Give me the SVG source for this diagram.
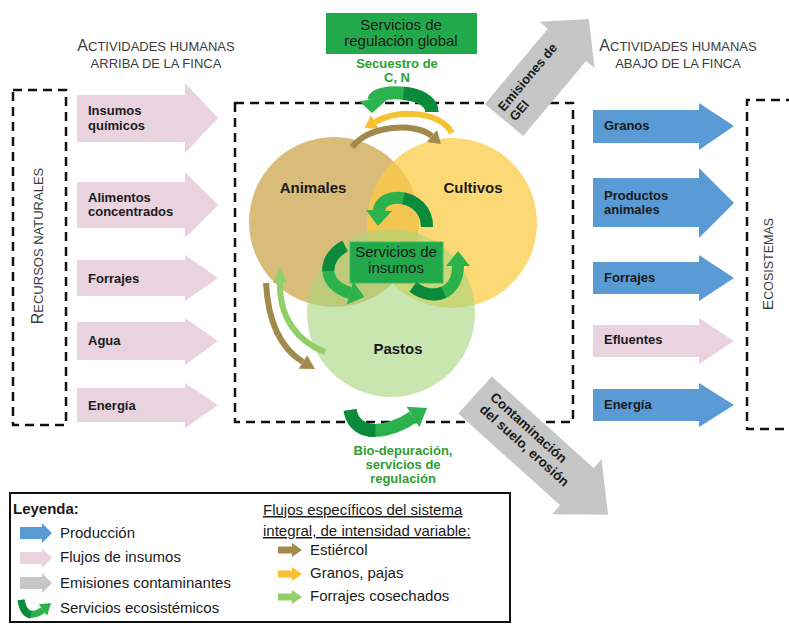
<svg xmlns="http://www.w3.org/2000/svg" width="789" height="626" viewBox="0 0 789 626">
<defs>
<style>
text{font-family:"Liberation Sans",Arial,Helvetica,sans-serif}
.lbl{font-size:13px;font-weight:bold;fill:#1a1a1a}
.hdr{font-size:13px;fill:#3c3c3c}
.big{font-size:16px}
.cl{font-size:15px;font-weight:bold;fill:#1a1a1a}
.gt{font-size:13px;font-weight:bold;fill:#2e9e2e}
.bx{font-size:15px;fill:#1a1a1a}
.lg{font-size:15px;fill:#1a1a1a}
.dash{fill:none;stroke:#111;stroke-width:2.5;stroke-dasharray:9 6}
.pink{fill:#e8d3df}
.blue{fill:#5b9bd5}
.gray{fill:#c6c6c6}
.gb{fill:none;stroke:#2bb24c;stroke-linecap:butt}
.gd{fill:none;stroke:#0b8a3c;stroke-linecap:butt}
.gh{fill:#2bb24c}
.brown{fill:none;stroke:#a28a4c;stroke-width:6}
.yel{fill:none;stroke:#f7c232;stroke-width:6}
.lgr{fill:none;stroke:#92cf6a;stroke-width:6}
</style>
</defs>

<!-- Venn circles -->
<g id="animales">
<circle cx="334" cy="222" r="85" fill="#c9a040" fill-opacity="0.7"/>
</g>
<g id="cultivos">
<circle cx="452" cy="223" r="85" fill="#fbcb40" fill-opacity="0.72"/>
</g>
<g id="pastos">
<circle cx="391" cy="313" r="84" fill="#a6d67c" fill-opacity="0.6"/>
</g>
<text class="cl" x="313" y="193" text-anchor="middle">Animales</text>
<text class="cl" x="473" y="193" text-anchor="middle">Cultivos</text>
<text class="cl" x="398" y="354" text-anchor="middle">Pastos</text>

<!-- dashed boxes -->
<g id="recursos-naturales">
<rect class="dash" x="13" y="90" width="53" height="335"/>
<text class="hdr" transform="translate(43,246) rotate(-90)" text-anchor="middle"><tspan class="big">R</tspan>ECURSOS NATURALES</text>
</g>
<g id="finca">
<rect class="dash" x="235" y="103" width="338" height="319"/>
</g>
<g id="ecosistemas">
<path class="dash" d="M795 100 H747 V429 H795"/>
<text class="hdr" transform="translate(773,264) rotate(-90)" text-anchor="middle" style="font-size:12.5px"><tspan style="font-size:15.5px">E</tspan>COSISTEMAS</text>
</g>

<!-- headers -->
<g id="arriba">
<text class="hdr" x="156" y="51" text-anchor="middle"><tspan class="big">A</tspan>CTIVIDADES HUMANAS</text>
<text class="hdr" x="156" y="68" text-anchor="middle">ARRIBA DE LA FINCA</text>
</g>
<g id="abajo">
<text class="hdr" x="678" y="51" text-anchor="middle"><tspan class="big">A</tspan>CTIVIDADES HUMANAS</text>
<text class="hdr" x="678" y="68" text-anchor="middle">ABAJO DE LA FINCA</text>
</g>

<!-- input arrows -->
<g id="in-insumos">
<polygon class="pink" points="77,95 185,95 185,83 218,118 185,153 185,142 77,142"/>
<text class="lbl" x="88" y="115">Insumos</text>
<text class="lbl" x="88" y="130">químicos</text>
</g>
<g id="in-alimentos">
<polygon class="pink" points="77,182 185,182 185,172 218,205 185,238 185,228 77,228"/>
<text class="lbl" x="88" y="202">Alimentos</text>
<text class="lbl" x="88" y="216">concentrados</text>
</g>
<g id="in-forrajes">
<polygon class="pink" points="77,260 185,260 185,255 218,278 185,301 185,296 77,296"/>
<text class="lbl" x="88" y="283">Forrajes</text>
</g>
<g id="in-agua">
<polygon class="pink" points="77,322 185,322 185,318 218,341 185,365 185,360 77,360"/>
<text class="lbl" x="88" y="345">Agua</text>
</g>
<g id="in-energia">
<polygon class="pink" points="77,388 185,388 185,383 218,405 185,428 185,422 77,422"/>
<text class="lbl" x="88" y="410">Energía</text>
</g>

<!-- output arrows -->
<g id="out-granos">
<polygon class="blue" points="593,110 699,110 699,103 734,126 699,150 699,143 593,143"/>
<text class="lbl" x="604" y="130">Granos</text>
</g>
<g id="out-productos">
<polygon class="blue" points="593,178 699,178 699,168 734,203 699,238 699,227 593,227"/>
<text class="lbl" x="604" y="200">Productos</text>
<text class="lbl" x="604" y="214">animales</text>
</g>
<g id="out-forrajes">
<polygon class="blue" points="593,262 699,262 699,255 734,278 699,301 699,294 593,294"/>
<text class="lbl" x="604" y="282">Forrajes</text>
</g>
<g id="out-efluentes">
<polygon class="pink" points="593,325 699,325 699,318 734,341 699,364 699,357 593,357"/>
<text class="lbl" x="604" y="344">Efluentes</text>
</g>
<g id="out-energia">
<polygon class="blue" points="593,389 699,389 699,383 734,405 699,427 699,421 593,421"/>
<text class="lbl" x="604" y="409">Energía</text>
</g>

<!-- emission arrows -->
<g id="emisiones-gei" transform="translate(504,120) rotate(-50)">
<polygon class="gray" points="0,-25 98,-25 98,-36 132,0 98,36 98,25 0,25"/>
<text class="lbl" x="6" y="-5">Emisiones de</text>
<text class="lbl" x="6" y="10">GEI</text>
</g>
<g id="contaminacion" transform="translate(475,395) rotate(42)">
<polygon class="gray" points="0,-25 137,-25 137,-37 179,0 137,37 137,25 0,25"/>
<text class="lbl" x="13" y="-7" style="font-size:13.5px">Contaminación</text>
<text class="lbl" x="13" y="9" style="font-size:13.5px">del suelo, erosión</text>
</g>

<!-- service boxes -->
<g id="reg-global">
<rect x="326" y="13" width="151" height="41" fill="#22a94b"/>
<text class="bx" x="401" y="30" text-anchor="middle">Servicios de</text>
<text class="bx" x="401" y="46" text-anchor="middle">regulación global</text>
<text class="gt" x="397" y="68" text-anchor="middle">Secuestro de</text>
<text class="gt" x="397" y="82" text-anchor="middle">C, N</text>
</g>
<g id="serv-insumos">
<rect x="350" y="242" width="93" height="41" fill="#22a94b" stroke="#3dbb5e" stroke-width="1"/>
<text class="bx" x="396" y="257" text-anchor="middle">Servicios de</text>
<text class="bx" x="396" y="273" text-anchor="middle">insumos</text>
</g>
<g id="bio">
<text class="gt" x="403" y="455" text-anchor="middle">Bio-depuración,</text>
<text class="gt" x="403" y="469" text-anchor="middle">servicios de</text>
<text class="gt" x="403" y="483" text-anchor="middle">regulación</text>
</g>

<!-- connectors -->
<g id="connectors">
<!-- secuestro -->
<path class="gb" stroke-width="13" d="M432 112 C432 89 375 89 374 100"/>
<path class="gd" stroke-width="13" d="M432 112 C432 100.5 418 94.5 403.5 93.2"/>
<polygon class="gh" points="359,101 389,98 372,113"/>
<!-- granos/pajas arc -->
<path class="yel" d="M452 133 C440 112 400 108 375 122"/>
<polygon fill="#f7c232" points="379,129 371,115 364.6,128"/>
<!-- estiercol arc top -->
<path class="brown" d="M352 147 C370 125 415 122 432 136"/>
<polygon fill="#a28a4c" points="427,142 437,130 441,144"/>
<!-- inner cycle top -->
<path class="gb" stroke-width="12" d="M427 227 C427 193 380 190 379 211"/>
<path class="gd" stroke-width="12" d="M427 227 C427 210 415.25 200.75 403.4 198.4"/>
<polygon class="gh" points="366,210 392,211 378,226"/>
<!-- inner cycle left -->
<path class="gb" stroke-width="12" d="M345 246 C322 258 322 285 350 293"/>
<path class="gd" stroke-width="12" d="M345 246 C333.5 252 327.75 261.75 328.4 271"/>
<polygon class="gh" points="346.8,304.5 353.2,281.5 364.4,297"/>
<!-- inner cycle right -->
<path class="gb" stroke-width="12" d="M413 287 C435 303 458 292 458 266"/>
<path class="gd" stroke-width="12" d="M413 287 C424 295 435.25 296.25 443.75 292.25"/>
<polygon class="gh" points="446,266 470,266 458,251"/>
<!-- estiercol to pastos -->
<path class="brown" d="M266 283 C268 320 280 348 303 362"/>
<polygon fill="#a28a4c" points="298.8,368.8 307.2,355.2 315,369"/>
<!-- forrajes cosechados -->
<path class="lgr" d="M325 352 C298 342 279 318 280 282"/>
<polygon fill="#92cf6a" points="273,283 287,283 280.5,267"/>
<!-- bio-depuracion -->
<path class="gb" stroke-width="13" d="M350 410 C355 440 392 432 413 417"/>
<path class="gd" stroke-width="13" d="M350 410 C352.5 425 363 430.5 375.5 430.4"/>
<polygon class="gh" points="419.4,427.2 406.6,406.8 427,408"/>
</g>

<!-- legend -->
<g id="legend">
<rect x="10" y="493" width="500" height="129" fill="#fff" stroke="#111" stroke-width="2"/>
<text class="lg" x="13" y="514" font-weight="bold">Leyenda:</text>
<polygon class="blue" points="20,527 42,527 42,523 52,533 42,543 42,539 20,539"/>
<text class="lg" x="60" y="538">Producción</text>
<polygon class="pink" points="20,552 42,552 42,548 52,558 42,568 42,564 20,564"/>
<text class="lg" x="60" y="562">Flujos de insumos</text>
<polygon class="gray" points="20,577 42,577 42,573 52,583 42,593 42,589 20,589"/>
<text class="lg" x="60" y="588">Emisiones contaminantes</text>
<path class="gb" stroke-width="7" d="M21 600 Q26 622 43 610"/>
<path class="gd" stroke-width="7" d="M21 600 Q23 614 31 615"/>
<polygon class="gh" points="47.1,615.7 38.9,604.3 51,603"/>
<text class="lg" x="60" y="613">Servicios ecosistémicos</text>
<text class="lg" x="263" y="515" text-decoration="underline">Flujos específicos del sistema</text>
<text class="lg" x="263" y="536" text-decoration="underline">integral, de intensidad variable:</text>
<polygon fill="#a28a4c" points="278,546.5 292,546.5 292,543 302,550 292,557 292,553.5 278,553.5"/>
<text class="lg" x="310" y="555">Estiércol</text>
<polygon fill="#f7c232" points="278,570.5 292,570.5 292,567 302,574 292,581 292,577.5 278,577.5"/>
<text class="lg" x="310" y="578">Granos, pajas</text>
<polygon fill="#92cf6a" points="278,593.5 292,593.5 292,590 302,597 292,604 292,600.5 278,600.5"/>
<text class="lg" x="310" y="601">Forrajes cosechados</text>
</g>
</svg>
